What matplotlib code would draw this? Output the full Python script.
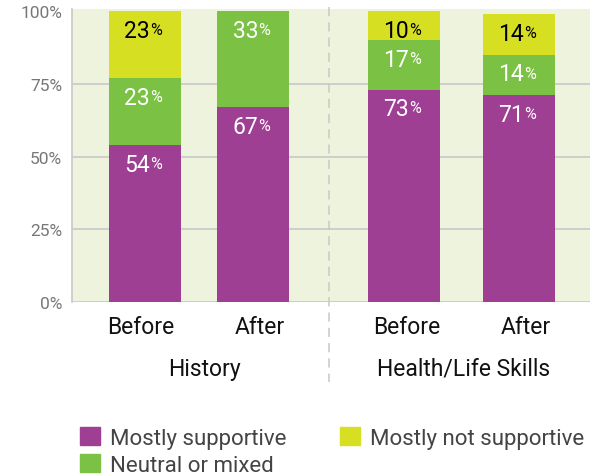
import matplotlib.pyplot as plt
from matplotlib.patches import Patch

# data
groups = ["History", "Health/Life Skills"]
bar_labels = ["Before", "After", "Before", "After"]
supportive = [54, 67, 73, 71]
neutral = [23, 33, 17, 14]
not_supportive = [23, 0, 10, 14]
series_names = ["Mostly supportive", "Neutral or mixed", "Mostly not supportive"]

# layout (pixel-like x units inside the axes)
xpos = [73, 181, 332, 447]
label_x = [69, 188, 335, 454]
bar_w = 72
divider_x = 257
group_x = [132, 392]

PURPLE = "#9e3f93"
GREEN = "#7bc143"
YELLOW = "#d7df23"
BG = "#edf3dc"
GRID = "#c8c8c8"

plt.rcParams['font.family'] = ['Roboto', 'DejaVu Sans']

fig = plt.figure(figsize=(5.99, 4.77), dpi=100)
W, H = 599, 477
ax = fig.add_axes([72 / W, (H - 303) / H, 518 / W, 293 / H])
ax.set_xlim(0, 518)
ax.set_ylim(0, 100.7)
ax.set_facecolor(BG)

for y in [0, 25, 50, 75]:
    ax.axhline(y, color=GRID, lw=1.2, zorder=1)

bottoms2 = [a + b for a, b in zip(supportive, neutral)]
ax.bar(xpos, supportive, bar_w, color=PURPLE, zorder=2)
ax.bar(xpos, neutral, bar_w, bottom=supportive, color=GREEN, zorder=2)
ax.bar(xpos, not_supportive, bar_w, bottom=bottoms2, color=YELLOW, zorder=2)


def pct_label(x, top, val, color):
    y = top - 6.6
    ax.text(x + 5, y, str(val), ha='right', va='center', fontsize=16.5,
            color=color, zorder=3)
    ax.text(x + 5, y + 0.3, "%", ha='left', va='center', fontsize=11.5,
            color=color, zorder=3)


for i, x in enumerate(xpos):
    pct_label(x, supportive[i], supportive[i], "white")
    if neutral[i]:
        pct_label(x, bottoms2[i], neutral[i], "white")
    if not_supportive[i]:
        pct_label(x, bottoms2[i] + not_supportive[i], not_supportive[i], "black")

for s in ax.spines.values():
    s.set_visible(False)
ax.plot([0, 0], [0, 100.7], color=GRID, lw=1.2, clip_on=False, zorder=4)

ax.set_yticks([0, 25, 50, 75, 100])
ax.set_yticklabels(["0%", "25%", "50%", "75%", "100%"], color="#777777", fontsize=12.5)
ax.tick_params(axis='y', length=0, pad=7)
ax.set_xticks([])

for lx, lab in zip(label_x, bar_labels):
    ax.text(lx, -8.4, lab, ha='center', va='center', fontsize=16.5, color="#111111")

# divider
ax.plot([divider_x, divider_x], [101.5, -27.5], color="#c8c8c8", lw=1.1,
        ls=(0, (6, 4)), clip_on=False, zorder=0)

for gx, g in zip(group_x, groups):
    ax.text(gx, -22.7, g, ha='center', va='center', fontsize=16.5, color="#111111")

handles = [Patch(color=PURPLE), Patch(color=GREEN), Patch(color=YELLOW)]
fig.legend(handles, series_names, loc='upper left', bbox_to_anchor=(80 / W, 1 - 428 / H),
           ncol=2, frameon=False, fontsize=16, labelcolor="#444444",
           handlelength=0.9, handleheight=0.9, handletextpad=0.45,
           columnspacing=2.4, labelspacing=0.22, borderpad=0, borderaxespad=0)

fig.savefig("out.png", dpi=100)
